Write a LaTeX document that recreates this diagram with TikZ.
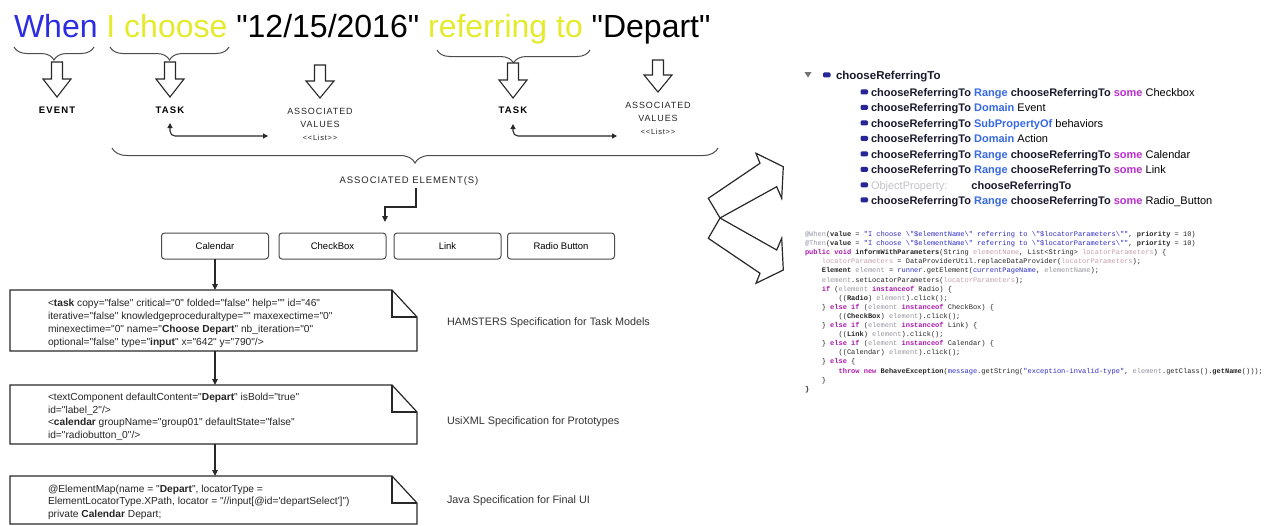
\documentclass[tikz,border=0pt]{standalone}
\usepackage{fontspec}
\setmainfont{Liberation Sans}[Ligatures=TeXOff]
\newfontfamily\codefont{Liberation Mono}[Ligatures=TeXOff]
\usetikzlibrary{arrows.meta,decorations.pathreplacing,calc}
\definecolor{tblue}{RGB}{45,45,225}
\definecolor{tyellow}{RGB}{228,235,45}
\definecolor{kwblue}{RGB}{55,105,225}
\definecolor{kwmag}{RGB}{185,45,205}
\definecolor{navyicon}{RGB}{38,38,150}
\definecolor{ontgray}{RGB}{195,195,200}
\definecolor{ontdark}{RGB}{25,25,45}
\definecolor{colkw}{RGB}{170,25,170}
\definecolor{colstr}{RGB}{45,45,200}
\definecolor{colpar}{RGB}{200,160,175}
\definecolor{colvar}{RGB}{150,150,160}
\definecolor{colann}{RGB}{150,150,170}
\definecolor{linegray}{RGB}{40,40,40}
\newcommand\cRT{{\bfseries\color{ontdark}chooseReferringTo}}
\newcommand\kwb[1]{{\bfseries\color{kwblue}#1}}
\newcommand\kwm[1]{{\bfseries\color{kwmag}#1}}
\newcommand\ckwd[1]{{\bfseries\color{colkw}#1}}
\newcommand\cstrg[1]{{\color{colstr}#1}}
\newcommand\cparm[1]{{\color{colpar}#1}}
\newcommand\cvarb[1]{{\color{colvar}#1}}
\newcommand\cannot[1]{{\color{colann}#1}}
\newcommand\hollowdown[4]{\draw[hollowarr] ({#1-5.5},#2) -- ({#1+5.5},#2) -- ({#1+5.5},#3) -- ({#1+14},#3) -- (#1,#4) -- ({#1-14},#3) -- ({#1-5.5},#3) -- cycle;}
\newcommand\onticon[2]{\fill[navyicon, rounded corners=1.2pt] (#1,{#2-2.6}) rectangle ({#1+7.5},{#2+2.4});}
\begin{document}
\begin{tikzpicture}[x=1pt,y=-1pt,
  every node/.style={inner sep=0pt, outer sep=0pt},
  hollowarr/.style={draw=linegray, line width=1.1pt, fill=white, line join=miter},
  bracestyle/.style={decorate, decoration={brace, amplitude=13pt, mirror}, draw=black!70, line width=1pt},
  bigbrace/.style={decorate, decoration={brace, amplitude=15pt, mirror}, draw=black!70, line width=1pt},
  lblb/.style={font=\fontsize{9.5}{11}\selectfont\bfseries\addfontfeature{LetterSpace=12}},
  lblr/.style={font=\fontsize{9}{13}\selectfont\addfontfeature{LetterSpace=10}, align=center, text=black!85},
  conn/.style={draw=linegray, line width=1.1pt},
  arr/.style={conn, -{Triangle[length=6pt,width=5.5pt]}},
  darr/.style={conn, {Triangle[length=5pt,width=5pt]}-{Triangle[length=5pt,width=5pt]}, rounded corners=5pt},
  elbox/.style={draw=black!70, fill=white, line width=1pt, rounded corners=3pt, minimum width=107pt, minimum height=26pt, font=\fontsize{9.5}{11}\selectfont},
  docnode/.style={minimum width=407pt},
  docline/.style={draw=linegray, line width=1.2pt, line join=miter},
  doctxt/.style={anchor=base west, font=\fontsize{10.2}{12}\selectfont, text=black!85},
  spec/.style={anchor=base west, font=\fontsize{10.8}{13}\selectfont, text=black!80},
  ontrow/.style={anchor=base west, font=\fontsize{11}{13}\selectfont},
  codeln/.style={anchor=base west, font=\codefont\fontsize{7}{9}\selectfont, text=black!85}
]
\fill[white] (0,0) rectangle (1274,525);
\useasboundingbox (0,0) rectangle (1274,525);

% ---------- title ----------
\node[anchor=base west, font=\fontsize{32}{38}\selectfont] (title) at (14,37)
  {\textcolor{tblue}{When} \textcolor{tyellow}{I choose} "12/15/2016" \textcolor{tyellow}{referring to} "Depart"};

% ---------- braces ----------
\draw[bracestyle] (14,47) -- (94,47);
\draw[bracestyle] (110,47) -- (229,47);
\draw[bracestyle] (437,50) -- (590,50);

% ---------- hollow arrows ----------
\hollowdown{57}{62}{79}{97}
\hollowdown{170}{62}{79}{97}
\hollowdown{320}{65}{81}{98}
\hollowdown{513}{63}{80}{98}
\hollowdown{658}{60}{75}{92}

% ---------- labels ----------
\node[lblb] (event) at (57,110) {EVENT};
\node[lblb] (task1) at (170,110) {TASK};
\node[lblb] (task2) at (513,110) {TASK};
\node[lblr] (vals1) at (320,124) {ASSOCIATED\\VALUES\\{\fontsize{7.5}{9}\selectfont<<List>>}};
\node[lblr] (vals2) at (658,118) {ASSOCIATED\\VALUES\\{\fontsize{7.5}{9}\selectfont<<List>>}};

\coordinate (t1a) at (170,123);
\coordinate (v1a) at (268,136);
\coordinate (t2a) at (513,124);
\coordinate (v2a) at (617,136);
\draw[darr] (t1a) |- (v1a);
\draw[darr] (t2a) |- (v2a);

% ---------- big brace ----------
\draw[bigbrace] (112,148) -- (718,148);
\node[font=\fontsize{9.5}{11}\selectfont\addfontfeature{LetterSpace=10}, text=black!85] (assocel) at (409,181) {ASSOCIATED ELEMENT(S)};
\coordinate (aeout) at (416,188);
\coordinate (elemin) at (385,222);
\draw[arr] (aeout) -- ++(0,19) -| (elemin);

% ---------- element boxes ----------
\node[elbox] (cal) at (215,246) {Calendar};
\node[elbox] (chk) at (332.5,246) {CheckBox};
\node[elbox] (lnk) at (447.5,246) {Link};
\node[elbox] (rad) at (561,246) {Radio Button};

% ---------- documents ----------
\node[docnode, minimum height=61pt] (doc1) at (213.5,320.5) {};
\node[docnode, minimum height=59pt] (doc2) at (213.5,414.5) {};
\node[docnode, minimum height=48pt] (doc3) at (213.5,500) {};
\foreach \d in {doc1,doc2,doc3}{
  \draw[docline, fill=white] (\d.south west) -- (\d.north west) -- ($(\d.north east)+(-25,0)$) -- ($(\d.north east)+(0,27)$) -- (\d.south east) -- cycle;
  \draw[docline] ($(\d.north east)+(-25,0)$) |- ($(\d.north east)+(0,27)$);
}
\draw[arr] (cal.south) -- (cal.south |- doc1.north);
\draw[arr] (cal.south |- doc1.south) -- (cal.south |- doc2.north);
\draw[arr] (cal.south |- doc2.south) -- (cal.south |- doc3.north);

\node[doctxt] (d1a) at (48,306.5) {<\textbf{task} copy="false" critical="0" folded="false" help="" id="46"};
\node[doctxt] (d1b) at (48,319) {iterative="false" knowledgeproceduraltype="" maxexectime="0"};
\node[doctxt] (d1c) at (48,332) {minexectime="0" name="\textbf{Choose Depart}" nb\_iteration="0"};
\node[doctxt] (d1d) at (48,345) {optional="false" type="\textbf{input}" x="642" y="790"/>};

\node[doctxt] (d2a) at (48,400.5) {<textComponent defaultContent="\textbf{Depart}" isBold="true"};
\node[doctxt] (d2b) at (48,413) {id="label\_2"/>};
\node[doctxt] (d2c) at (48,425.5) {<\textbf{calendar} groupName="group01" defaultState="false"};
\node[doctxt] (d2d) at (48,438) {id="radiobutton\_0"/>};

\node[doctxt] (d3a) at (48,492.5) {@ElementMap(name = "\textbf{Depart}", locatorType =};
\node[doctxt] (d3b) at (48,504.5) {ElementLocatorType.XPath, locator = "//input[@id='departSelect']")};
\node[doctxt] (d3c) at (48,517.5) {private \textbf{Calendar} Depart;};

\node[spec] (spec1) at (447,325.5) {HAMSTERS Specification for Task Models};
\node[spec] (spec2) at (447,424.5) {UsiXML Specification for Prototypes};
\node[spec] (spec3) at (447,503.5) {Java Specification for Final UI};

% ---------- zig-zag block arrows ----------
\draw[hollowarr, line width=1.2pt] (720,218) -- (708.3,198.3) -- (760,163.3) -- (756,153.3) -- (783.3,166.7) -- (781.7,198.3) -- (776.7,186.7) -- cycle;
\draw[hollowarr, line width=1.2pt] (720,218) -- (776.7,250) -- (781.7,238.3) -- (783.3,270) -- (756,283.3) -- (760,273.3) -- (708.3,238.3) -- cycle;

% ---------- ontology panel ----------
\fill[black!55] (804.5,72) -- (811.5,72) -- (808,77.5) -- cycle;
\onticon{823}{75}
\node[anchor=base west, font=\fontsize{11.5}{13}\selectfont\bfseries, text=ontdark] (onthead) at (836,79) {chooseReferringTo};
\onticon{860.5}{92}
\node[ontrow] (o1) at (871,96) {\cRT\ \kwb{Range} \cRT\ \kwm{some} Checkbox};
\onticon{860.5}{107.5}
\node[ontrow] (o2) at (871,111.5) {\cRT\ \kwb{Domain} Event};
\onticon{860.5}{123}
\node[ontrow] (o3) at (871,127) {\cRT\ \kwb{SubPropertyOf} behaviors};
\onticon{860.5}{138.5}
\node[ontrow] (o4) at (871,142.5) {\cRT\ \kwb{Domain} Action};
\onticon{860.5}{154}
\node[ontrow] (o5) at (871,158) {\cRT\ \kwb{Range} \cRT\ \kwm{some} Calendar};
\onticon{860.5}{169.5}
\node[ontrow] (o6) at (871,173.5) {\cRT\ \kwb{Range} \cRT\ \kwm{some} Link};
\onticon{860.5}{185}
\node[ontrow] (o7) at (871,189) {{\color{ontgray}ObjectProperty:}\hspace{24pt}\cRT};
\onticon{860.5}{200}
\node[ontrow] (o8) at (871,204) {\cRT\ \kwb{Range} \cRT\ \kwm{some} Radio\_Button};

% ---------- code ----------
\node[codeln] (c1) at (805,236.5) {\cannot{@When}(\textbf{value} = \cstrg{"I choose \textbackslash"\$elementName\textbackslash" referring to \textbackslash"\$locatorParameters\textbackslash""}, \textbf{priority} = 10)};
\node[codeln] (c2) at (805,245.6) {\cannot{@Then}(\textbf{value} = \cstrg{"I choose \textbackslash"\$elementName\textbackslash" referring to \textbackslash"\$locatorParameters\textbackslash""}, \textbf{priority} = 10)};
\node[codeln] (c3) at (805,254.7) {\ckwd{public void} \textbf{informWithParameters}(String \cparm{elementName}, List<String> \cparm{locatorParameters}) \{};
\node[codeln] (c4) at (821.8,263.8) {\cparm{locatorParameters} = DataProviderUtil.replaceDataProvider(\cparm{locatorParameters});};
\node[codeln] (c5) at (821.8,272.9) {\textbf{Element} \cvarb{element} = \cstrg{runner}.getElement(\cstrg{currentPageName}, \cvarb{elementName});};
\node[codeln] (c6) at (821.8,282) {\cvarb{element}.setLocatorParameters(\cparm{locatorParameters});};
\node[codeln] (c7) at (821.8,291.1) {\ckwd{if} (\cvarb{element} \ckwd{instanceof} Radio) \{};
\node[codeln] (c8) at (838.6,300.2) {((\textbf{Radio}) \cvarb{element}).click();};
\node[codeln] (c9) at (821.8,309.3) {\} \ckwd{else if} (\cvarb{element} \ckwd{instanceof} CheckBox) \{};
\node[codeln] (c10) at (838.6,318.4) {((\textbf{CheckBox}) \cvarb{element}).click();};
\node[codeln] (c11) at (821.8,327.5) {\} \ckwd{else if} (\cvarb{element} \ckwd{instanceof} Link) \{};
\node[codeln] (c12) at (838.6,336.6) {((\textbf{Link}) \cvarb{element}).click();};
\node[codeln] (c13) at (821.8,345.7) {\} \ckwd{else if} (\cvarb{element} \ckwd{instanceof} Calendar) \{};
\node[codeln] (c14) at (838.6,354.8) {((Calendar) \cvarb{element}).click();};
\node[codeln] (c15) at (821.8,363.9) {\} \ckwd{else} \{};
\node[codeln] (c16) at (838.6,373) {\ckwd{throw new} \textbf{BehaveException}(\cstrg{message}.getString(\cstrg{"exception-invalid-type"}, \cvarb{element}.getClass().\textbf{getName}()));};
\node[codeln] (c17) at (821.8,382.1) {\}};
\node[codeln] (c18) at (805,391.2) {\textbf{\}}};
\end{tikzpicture}
\end{document}
